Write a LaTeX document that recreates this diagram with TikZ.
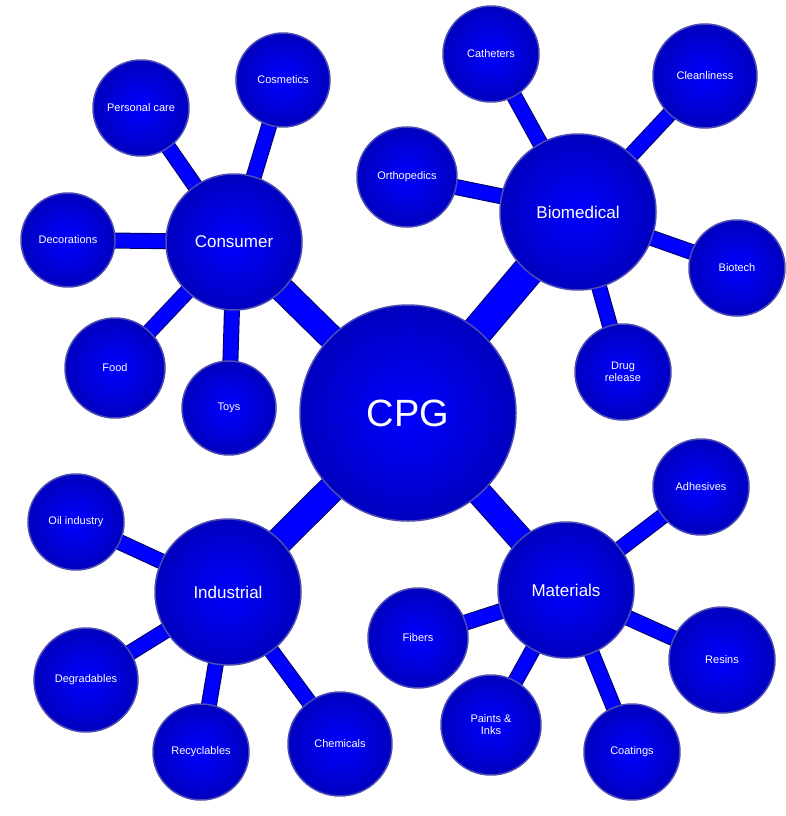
\documentclass[tikz,border=0pt]{standalone}
\usepackage{fontspec}
\setmainfont{Liberation Sans}
\usetikzlibrary{backgrounds}
\tikzset{ball/.style={circle, draw=gray!60!blue, line width=1.5pt, shading=radial, inner color=blue, outer color=blue!75!black, text=white, align=center, inner sep=0pt, font=\fontsize{11}{12}\selectfont},
  hub/.style={ball, font=\fontsize{17}{19}\selectfont},
  bar/.style={draw=blue!40!black, double=blue, double distance=14pt, line width=1pt}}

\begin{document}
\begin{tikzpicture}[x=1pt,y=-1pt]
\useasboundingbox (0,0) rectangle (786,816);
\node (cpg) [ball, minimum size=216pt, font=\fontsize{38}{40}\selectfont] at (408,413) {CPG};
\node (cons) [hub, minimum size=136pt] at (234,242) {Consumer};
\node (bio) [hub, minimum size=156pt] at (578,212) {Biomedical};
\node (ind) [hub, minimum size=146pt] at (228,592) {Industrial};
\node (mat) [hub, minimum size=136pt] at (566,590) {Materials};
% consumer
\node (pers) [ball, minimum size=96pt] at (141,108) {Personal care};
\node (cosm) [ball, minimum size=94pt] at (283,80) {Cosmetics};
\node (deco) [ball, minimum size=94pt] at (68,240) {Decorations};
\node (food) [ball, minimum size=100pt] at (115,368) {Food};
\node (toys) [ball, minimum size=94pt] at (229,408) {Toys};
% biomedical
\node (cath) [ball, minimum size=96pt] at (491,54) {Catheters};
\node (clean) [ball, minimum size=104pt] at (705,76) {Cleanliness};
\node (orth) [ball, minimum size=100pt] at (407,177) {Orthopedics};
\node (biot) [ball, minimum size=96pt] at (737,268) {Biotech};
\node (drug) [ball, minimum size=96pt] at (623,372) {Drug\\release};
% materials
\node (adh) [ball, minimum size=96pt] at (701,487) {Adhesives};
\node (fib) [ball, minimum size=100pt] at (418,638) {Fibers};
\node (res) [ball, minimum size=106pt] at (722,660) {Resins};
\node (paint) [ball, minimum size=100pt] at (491,725) {Paints \&\\Inks};
\node (coat) [ball, minimum size=96pt] at (632,752) {Coatings};
% industrial
\node (oil) [ball, minimum size=96pt] at (76,522) {Oil industry};
\node (degr) [ball, minimum size=104pt] at (86,680) {Degradables};
\node (recy) [ball, minimum size=96pt] at (201,752) {Recyclables};
\node (chem) [ball, minimum size=104pt] at (340,744) {Chemicals};

\begin{pgfonlayer}{background}
\draw [bar, double distance=24pt] (cpg.center) -- (cons.center);
\draw [bar, double distance=30pt] (cpg.center) -- (bio.center);
\draw [bar, double distance=26pt] (cpg.center) -- (ind.center);
\draw [bar, double distance=24pt] (cpg.center) -- (mat.center);
\foreach \a in {pers,cosm,deco,food,toys} \draw [bar] (cons.center) -- (\a.center);
\foreach \a in {cath,clean,orth,biot,drug} \draw [bar] (bio.center) -- (\a.center);
\foreach \a in {adh,fib,res,paint,coat} \draw [bar] (mat.center) -- (\a.center);
\foreach \a in {oil,degr,recy,chem} \draw [bar] (ind.center) -- (\a.center);
\end{pgfonlayer}
\end{tikzpicture}
\end{document}
